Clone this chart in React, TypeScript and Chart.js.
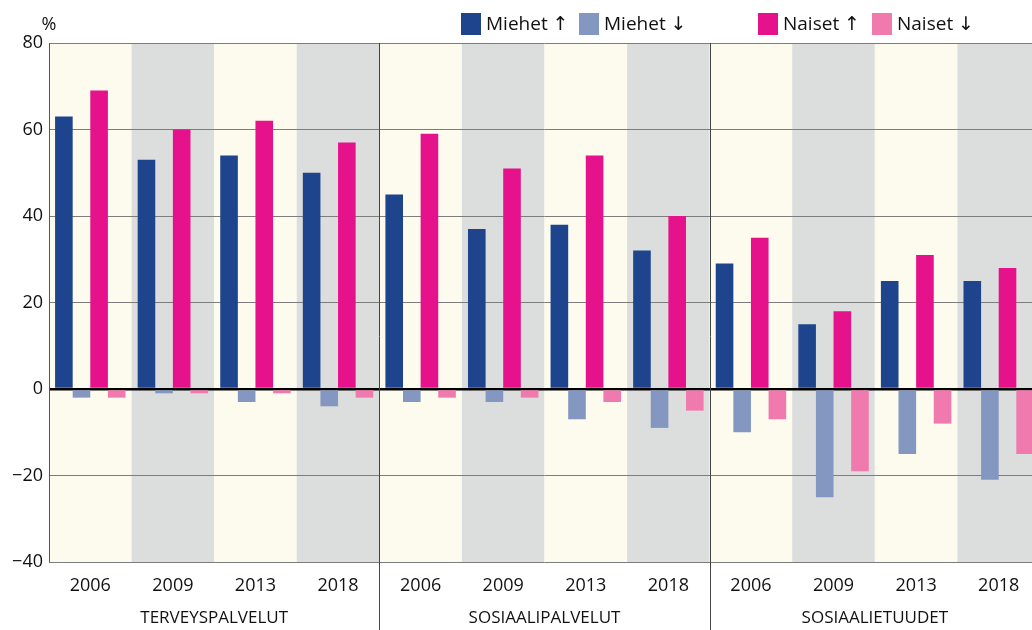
import React, { useEffect, useRef } from "react";
import { Chart, registerables } from "chart.js";

Chart.register(...registerables);

const years = ["2006", "2009", "2013", "2018"];
const groups = ["TERVEYSPALVELUT", "SOSIAALIPALVELUT", "SOSIAALIETUUDET"];
const categories = [...years, ...years, ...years];

const miehetUp = [63, 53, 54, 50, 45, 37, 38, 32, 29, 15, 25, 25];
const miehetDown = [-2, -1, -3, -4, -3, -3, -7, -9, -10, -25, -15, -21];
const naisetUp = [69, 60, 62, 57, 59, 51, 54, 40, 35, 18, 31, 28];
const naisetDown = [-2, -1, -1, -2, -2, -2, -3, -5, -7, -19, -8, -15];

const seriesNames = ["Miehet", "Miehet", "Naiset", "Naiset"];
const seriesArrows = ["\u2191", "\u2193", "\u2191", "\u2193"];
const seriesColors = ["#1d448c", "#8497c0", "#e5128b", "#f07aad"];

const yTicks = [-40, -20, 0, 20, 40, 60, 80];

const FONT = "'Open Sans', 'Noto Sans', sans-serif";

const bgPlugin = {
  id: "bands",
  beforeDraw(chart: any) {
    const { ctx, chartArea, scales } = chart;
    const x = scales.x;
    ctx.save();
    for (let i = 0; i < categories.length; i++) {
      const l = x.getPixelForValue(i - 0.5);
      const r = x.getPixelForValue(i + 0.5);
      ctx.fillStyle = i % 2 === 0 ? "#fdfbee" : "#dcdddd";
      ctx.fillRect(l, chartArea.top, r - l, chartArea.bottom - chartArea.top);
    }
    ctx.restore();
  },
  afterDraw(chart: any) {
    const { ctx, chartArea, scales } = chart;
    const x = scales.x;
    ctx.save();
    ctx.strokeStyle = "#555";
    ctx.lineWidth = 1;
    ctx.beginPath();
    ctx.moveTo(chartArea.left + 0.5, chartArea.top);
    ctx.lineTo(chartArea.left + 0.5, chartArea.bottom);
    ctx.stroke();
    ctx.strokeStyle = "#444";
    for (let g = 1; g < groups.length; g++) {
      const px = Math.round(x.getPixelForValue(g * 4 - 0.5)) + 0.5;
      ctx.beginPath();
      ctx.moveTo(px, chartArea.top);
      ctx.lineTo(px, chart.height);
      ctx.stroke();
    }
    ctx.fillStyle = "#111";
    ctx.font = `17px ${FONT}`;
    ctx.textAlign = "center";
    ctx.textBaseline = "middle";
    for (let g = 0; g < groups.length; g++) {
      const l = x.getPixelForValue(g * 4 - 0.5);
      const r = x.getPixelForValue(g * 4 + 3.5);
      ctx.fillText(groups[g], (l + r) / 2, chartArea.bottom + 56);
    }
    ctx.font = `18px ${FONT}`;
    ctx.fillText("%", 49, 25);
    const legendX = [461, 579, 758, 872];
    ctx.textAlign = "left";
    for (let i = 0; i < seriesNames.length; i++) {
      ctx.fillStyle = seriesColors[i];
      ctx.fillRect(legendX[i], 13, 20, 22);
      ctx.fillStyle = "#111";
      ctx.font = `19px ${FONT}`;
      const tx = legendX[i] + 25;
      ctx.fillText(seriesNames[i], tx, 25);
      const w = ctx.measureText(seriesNames[i] + " ").width;
      ctx.font = `19px 'DejaVu Sans', sans-serif`;
      ctx.fillText(seriesArrows[i], tx + w, 25);
    }
    ctx.restore();
  },
};

export default function App() {
  const ref = useRef<HTMLCanvasElement>(null);
  useEffect(() => {
    const canvas = ref.current!;
    const chart = new Chart(canvas, {
      type: "bar",
      data: {
        labels: categories,
        datasets: [miehetUp, miehetDown, naisetUp, naisetDown].map((d, i) => ({
          label: seriesNames[i] + " " + seriesArrows[i],
          data: d,
          backgroundColor: seriesColors[i],
          borderWidth: 0,
          categoryPercentage: 0.853,
          barPercentage: 1,
        })),
      },
      options: {
        responsive: false,
        animation: false,
        layout: { padding: { top: 43, left: 0, right: 0, bottom: 0 } },
        plugins: { legend: { display: false }, tooltip: { enabled: false } },
        scales: {
          x: {
            grid: { display: false },
            border: { display: false },
            ticks: { color: "#111", font: { family: FONT, size: 18 }, padding: 5, maxRotation: 0, autoSkip: false },
            afterFit(s: any) {
              s.height = 68;
            },
          },
          y: {
            min: -40,
            max: 80,
            afterBuildTicks(s: any) {
              s.ticks = yTicks.map((v) => ({ value: v }));
            },
            grid: {
              color: (c: any) => (c.tick && c.tick.value === 0 ? "#000" : "#7d7d7d"),
              lineWidth: (c: any) => (c.tick && c.tick.value === 0 ? 2.5 : 1),
              drawTicks: false,
            },
            border: { display: false },
            ticks: {
              color: "#111",
              font: { family: FONT, size: 18 },
              padding: 6,
              callback: (v: any) => (v < 0 ? "\u2212" + Math.abs(v) : String(v)),
            },
            afterFit(s: any) {
              s.width = 49;
            },
          },
        },
      },
      plugins: [bgPlugin],
    });
    return () => chart.destroy();
  }, []);
  return (
    <div style={{ position: "fixed", left: 0, top: 0, width: 1032, height: 630, overflow: "hidden", background: "#fff" }}>
      <canvas ref={ref} width={1040} height={630} style={{ width: 1040, height: 630, display: "block" }} />
    </div>
  );
}
